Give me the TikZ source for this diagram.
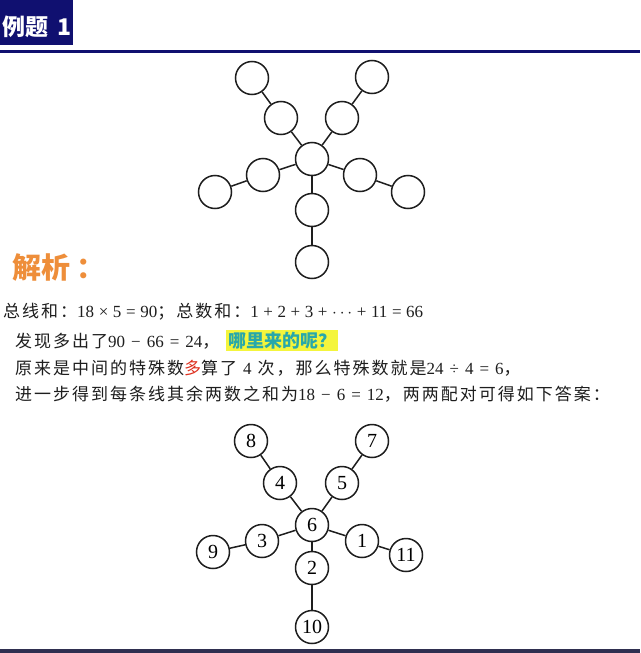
\documentclass[tikz,border=0pt]{standalone}
\usepackage{fontspec}
\setmainfont{Liberation Serif}
\newfontfamily\cjk{Noto Sans CJK SC}
\newfontfamily\cjkt[LetterSpace=11.76]{Noto Sans CJK SC}
\definecolor{navy}{RGB}{16,16,112}
\definecolor{botline}{RGB}{47,47,80}
\definecolor{orangec}{RGB}{238,142,58}
\definecolor{tealc}{RGB}{40,168,170}
\definecolor{hlyellow}{RGB}{244,245,60}
\definecolor{redc}{RGB}{222,48,30}
\definecolor{ink}{RGB}{30,30,30}
\newcommand\g{\hspace{4.6pt}}
\newcommand\G{\hspace{6pt}}
\begin{document}
\begin{tikzpicture}[x=1pt,y=-1pt,
  circ/.style={circle,draw=ink,line width=1.5pt,minimum size=33pt,inner sep=0pt,
    font=\fontsize{20}{20}\selectfont},
  edge/.style={draw=ink,line width=1.5pt},
  txt/.style={anchor=base west,inner sep=0pt,text=ink,font=\fontsize{17}{17}\selectfont}]
\useasboundingbox (0,0) rectangle (640,653);
\fill[white] (0,0) rectangle (640,653);
% header
\fill[navy] (0,0) rectangle (73,45);
\node[anchor=base west,inner sep=0pt,text=white,font=\cjk\bfseries\fontsize{23}{23}\selectfont] (title) at (2,35) {例题\hspace{9pt}1};
\fill[navy] (0,50) rectangle (640,53);
\fill[botline] (0,649) rectangle (640,653);
% top figure
\node[circ] (c0) at (312,159) {};
\node[circ] (tl1) at (281,118) {};
\node[circ] (tl2) at (252,78) {};
\node[circ] (tr1) at (342,118) {};
\node[circ] (tr2) at (372,77) {};
\node[circ] (l1) at (263,175) {};
\node[circ] (l2) at (215,192) {};
\node[circ] (r1) at (360,175) {};
\node[circ] (r2) at (408,192) {};
\node[circ] (b1) at (312,210) {};
\node[circ] (b2) at (312,262) {};
\draw[edge] (c0) -- (tl1); \draw[edge] (tl1) -- (tl2);
\draw[edge] (c0) -- (tr1); \draw[edge] (tr1) -- (tr2);
\draw[edge] (c0) -- (l1);  \draw[edge] (l1) -- (l2);
\draw[edge] (c0) -- (r1);  \draw[edge] (r1) -- (r2);
\draw[edge] (c0) -- (b1);  \draw[edge] (b1) -- (b2);
% analysis heading
\node[anchor=base west,inner sep=0pt,text=orangec,font=\cjk\bfseries\fontsize{29}{29}\selectfont] (jx) at (12,278) {解析\hspace{6pt}：};
% text lines
\node[txt] (t1) at (3,317) {{\cjkt 总线和：}18\g×\g5\g=\g90{\cjkt ；总数和：}1\g+\g2\g+\g3\g+\g$\cdots$\g+\g11\g=\g66};
\node[txt] (t2) at (15,347) {{\cjkt 发现多出了}90\G−\G66\G=\G24{\cjkt ，}\hspace{7pt}\setlength{\fboxsep}{2pt}\colorbox{hlyellow}{\cjk\bfseries\fontsize{18}{18}\selectfont\color{tealc}哪里来的呢？}};
\node[txt] (t3) at (15,374) {{\cjkt 原来是中间的特殊数}{\cjkt\color{redc}多}{\cjkt 算了}\G4\G{\cjkt 次，那么特殊数就是}24\G÷\G4\G=\G6{\cjkt ，}};
\node[txt] (t4) at (15,400) {{\cjkt 进一步得到每条线其余两数之和为}18\G−\G6\G=\G12{\cjkt ，两两配对可得如下答案：}};
% answer figure
\node[circ] (n6) at (312,525) {6};
\node[circ] (n4) at (280,483) {4};
\node[circ] (n8) at (251,441) {8};
\node[circ] (n5) at (342,483) {5};
\node[circ] (n7) at (372,441) {7};
\node[circ] (n3) at (262,541) {3};
\node[circ] (n9) at (213,552) {9};
\node[circ] (n1) at (362,541) {1};
\node[circ] (n11) at (406,555) {11};
\node[circ] (n2) at (312,568) {2};
\node[circ] (n10) at (312,627) {10};
\draw[edge] (n6) -- (n4); \draw[edge] (n4) -- (n8);
\draw[edge] (n6) -- (n5); \draw[edge] (n5) -- (n7);
\draw[edge] (n6) -- (n3); \draw[edge] (n3) -- (n9);
\draw[edge] (n6) -- (n1); \draw[edge] (n1) -- (n11);
\draw[edge] (n6) -- (n2); \draw[edge] (n2) -- (n10);
\end{tikzpicture}
\end{document}
